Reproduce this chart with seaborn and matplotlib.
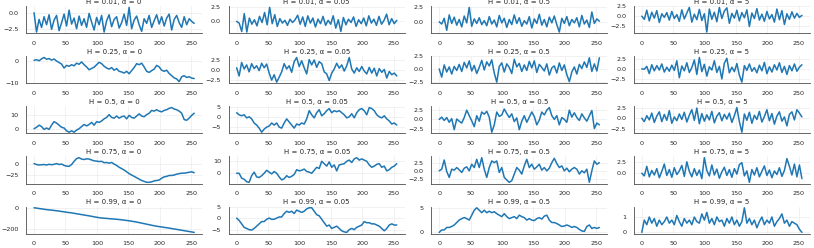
import numpy as np
import seaborn as sns
import matplotlib.pyplot as plt

# ------------ Data (one value every ~4 steps) ----------
hurst = [0.01, 0.25, 0.5, 0.75, 0.99]
alphas = [0, 0.05, 0.5, 5]

h001_a0 = [0.0, -2.9, -1.0, -2.2, -0.6, -1.8, -0.3, -2.5, -1.1, -0.4, -2.7, -1.5, -0.2, -2.0, 0.4, -1.7,
           -0.8, -2.4, -0.5, -1.9, -0.9, -2.2, -0.1, -1.4, -2.6, -0.7, -1.8, -0.4, -2.9, -1.2, -0.3, -2.1,
           -1.0, -0.6, -2.3, -1.5, -0.2, -1.9, 0.8, -2.4, -1.1, -0.5, -1.8, -2.8, -0.9, -1.6, -0.4, -2.2,
           -1.2, -0.3, -1.7, -0.6, -2.0, -0.8, -0.2, -2.6, -1.0, -0.4, -1.5, -2.2, -0.6, -1.8, -0.9, -1.3, -1.6]
h001_a005 = [0.0, -0.3, -1.8, 1.4, -1.9, 0.6, -0.5, 0.3, -0.8, 0.9, -0.2, 1.6, -0.6, 2.5, -0.4, 1.2,
             -0.9, 0.5, -0.3, 0.2, -0.7, 0.4, -0.2, 0.3, 1.1, -0.5, 0.8, -0.9, 1.0, -0.3, 0.6, -1.0,
             0.4, -0.4, 0.9, -0.7, 0.2, -0.5, 1.0, -1.2, 0.3, -1.8, 0.7, -0.6, 0.4, -0.2, 0.8, -0.9,
             0.3, -0.4, 0.6, -0.8, 1.0, -0.3, 0.4, -0.7, 0.9, -0.5, 0.2, 1.3, -0.6, 0.5, -0.4, 0.2]
h001_a05 = [0.0, -0.4, 0.6, -1.5, 1.2, -0.3, 0.8, -0.6, 0.4, -0.9, 1.0, -0.2, 2.5, -0.8, 0.5, -0.3,
            0.7, -0.5, 0.2, -0.7, 0.9, -0.4, 0.3, -0.9, 1.1, -0.2, 0.6, -1.0, 0.4, -0.5, 1.2, -0.3,
            0.7, -0.8, 0.2, -0.4, 0.9, -1.1, 0.5, -0.3, 1.3, -0.6, 0.4, -0.9, 0.8, -0.2, 1.0, -0.5,
            -1.8, 0.6, -0.3, 0.9, -0.7, 0.4, -0.2, 0.7, -0.9, 1.1, -0.4, 0.3, -1.0, 1.7, -0.3, 0.5, 0.1]
h001_a5 = [0.0, -0.8, 1.5, -1.2, 1.0, -0.5, 1.4, -1.6, 0.6, -0.3, 0.9, -1.0, 1.2, -0.6, 0.4, -1.3,
           1.6, -0.7, 0.8, 2.2, -1.5, 0.5, -0.9, 1.7, -1.1, 0.6, -4.0, 1.8, -0.8, 1.0, -1.4, 2.2,
           -0.6, 1.3, 2.1, -1.8, 0.7, -0.5, 1.5, -1.2, 0.9, -0.4, 1.6, -2.6, 0.8, -0.6, 1.9, -1.0,
           0.5, -1.3, 1.2, -0.7, 0.4, -1.5, 1.8, -0.9, 1.4, -2.1, 0.6, -0.8, 1.1, -0.5, 0.7, -0.3, 0.2]

h025_a0 = [0.5, 0.8, 0.3, 1.2, 1.8, 1.0, 1.3, 0.6, 1.1, 0.2, -0.5, -1.2, -3.0, -1.8, -2.2, -1.5,
           -2.0, -0.8, -1.3, -0.2, -1.5, -2.5, -3.8, -3.2, -2.6, -1.5, -0.4, -1.0, -2.2, -3.0, -3.5, -2.8,
           -4.0, -3.3, -4.5, -4.8, -5.3, -4.5, -5.6, -4.2, -2.8, -1.0, -1.5, -0.8, -2.5, -4.5, -5.0, -4.2,
           -3.5, -1.8, -2.5, -4.0, -4.5, -4.0, -5.5, -6.5, -7.5, -8.0, -9.2, -7.0, -6.5, -7.3, -7.0, -7.6, -7.8]
h025_a005 = [0.5, -1.5, 1.8, 0.2, 1.2, -0.5, 1.5, 0.3, 1.0, -0.2, 1.6, 0.5, 1.4, -0.8, -2.5, -1.2,
             -3.0, -1.8, -0.5, 1.5, 0.2, 1.0, -0.6, 2.0, 3.0, 0.8, 2.2, 0.5, -1.0, 2.5, 1.2, 2.4,
             0.6, 2.0, 1.5, -0.5, -1.0, -2.6, -0.8, 0.2, 1.6, 0.4, 1.2, -0.3, 1.0, 3.0, 0.2, -0.8,
             0.5, -0.4, 0.8, -0.3, -1.0, 0.6, -0.8, 0.4, -1.5, 0.3, -0.6, 0.1, -2.0, -0.4, -1.2, -0.8, -1.5]
h025_a05 = [0.0, -1.6, 0.8, -0.6, 0.4, -1.0, 0.5, -0.3, 0.9, -0.5, 1.3, 0.2, 1.6, -0.4, 0.7, -0.9,
            0.3, 1.7, -0.2, 1.4, 0.6, 1.8, -0.8, -2.6, 0.5, 1.2, -0.6, 1.0, 0.3, -0.9, 1.9, 0.4,
            1.1, -0.5, 0.8, -0.3, 1.5, 0.2, 1.6, -0.7, 0.9, 0.3, -0.4, 1.0, -1.2, 0.2, 0.6, -0.8,
            1.2, -0.3, 0.8, -1.1, -2.5, -0.6, 0.4, -1.0, 0.9, 0.1, 1.4, 0.3, 2.2, -0.5, 1.0, -0.4, 2.2]
h025_a5 = [0.0, -0.1, 0.6, -1.2, 1.0, -0.5, 0.8, -0.3, 1.2, -0.8, 0.4, -0.6, 0.9, -0.4, 2.0, -2.2,
           0.7, -0.5, 1.5, -0.9, 0.3, 2.2, -1.4, 2.8, -0.7, 1.1, -1.8, 0.5, -0.3, 2.0, -0.9, 0.6,
           -2.5, 1.4, 2.6, -1.0, 0.4, -0.7, 1.3, -1.6, -3.3, 0.8, -0.4, 1.2, -0.6, 0.3, -1.0, 0.9,
           -0.5, 1.6, -1.2, 0.5, -0.8, 1.0, -0.3, 1.5, -0.9, 0.6, -1.4, 0.8, -0.5, 1.2, -0.6, 0.4, 1.0]

h05_a0 = [0, 1, 2.5, 1.5, -0.5, 0.5, -0.5, 2.5, 5, 4, 2.5, 1, 0.5, -1.5, -2.5, -1.5,
          -2.5, -1, 0, 1.5, 3, 2, 3, 4.5, 2.5, 5, 4.5, 5.5, 7, 8, 10, 8,
          7.5, 9, 7.5, 8.5, 9, 7, 9.5, 8, 7.5, 9, 10.5, 9, 8.5, 10, 11, 13,
          12.5, 13.5, 12.5, 12, 13, 13.5, 14.5, 15, 14, 13.5, 12.5, 11, 6.5, 6, 7.5, 9.5, 11]
h05_a005 = [2, 1, 0.5, 1, -0.5, 0, -1, -3, -4, -5.5, -7.5, -6, -5, -4.5, -3, -4,
            -3, -5, -5.5, -3, -1, -2.5, -4, -5.5, -3.5, -4, -3, -3.5, -1, 3, 1, -0.5,
            2, 3.5, 0.5, 1.5, 3, 4, 2, 3, 2.5, 3, 2, 1, -0.5, 0, 1.5, -0.5,
            2, 3.5, 4, 3, 1, 4.5, 4, 3, 1, 0, -0.5, 0.5, -1, -2, -3.5, -3, -4]
h05_a05 = [0.0, 0.6, -0.3, 0.5, -0.8, 0.2, -2.8, 0.1, -0.5, -1.0, 0.5, 2.5, 1.0, -0.4, -2.0, 1.0,
           -0.5, 2.0, 1.4, 2.2, 0.6, -3.5, -1.5, 2.0, 0.8, 1.2, 2.8, 1.6, 0.5, 1.5, -0.6, 0.4,
           -2.8, -0.5, 1.0, -0.8, 0.6, 2.0, 0.8, -1.5, -0.2, 2.0, 1.2, 2.5, 3.2, 1.0, 0.0, 1.0,
           -1.5, 0.5, 0.0, -0.8, 2.5, 0.6, 1.8, 0.5, -0.3, 1.5, 0.4, -0.5, 1.0, 2.4, -2.5, -1.0, -1.5]
h05_a5 = [0.0, -0.8, 0.6, -0.4, 1.2, -1.0, 0.5, 1.5, -0.8, 0.9, -0.5, 1.8, -1.2, 0.3, -0.6, 1.0,
          -0.3, 1.4, -0.9, 0.7, 2.0, -0.5, 2.4, -1.3, 1.1, -0.7, 0.8, -0.4, 1.6, -1.1, 0.5, 1.3,
          -0.6, 0.9, -0.2, 1.2, -1.0, 0.6, 2.5, -0.8, -3.3, 1.0, -0.5, 1.4, -1.2, 0.7, -0.3, 1.6,
          -0.9, 0.4, 2.0, -0.6, 1.1, -1.4, 0.5, 1.5, -0.7, 0.3, -1.8, 0.9, 1.5, -0.4, 2.0, 1.2, 0.3]

h075_a0 = [0, -2, -3, -2.5, -2, -3, -1.5, -2.5, -1.5, 0, -2, -1, -4, -5.5, -6, -2,
           5, 11, 13, 10, 9, 10.5, 10, 8, 6, 5.5, 4.5, 5, 2, 2.5, 1, 2.5,
           -1, -4, -8, -11, -14, -18, -22, -25, -28, -31, -34, -37, -39, -41, -41, -40,
           -38, -37, -36, -32, -29, -28, -26, -26, -25, -23, -22, -21, -21, -20, -19, -18, -20]
h075_a005 = [0, 0, -4, -5, -7, -7.5, -2, 1, -3, -3.5, -2, 0, 2.5, 1, -0.5, 1.5,
             0, -3, -5.5, -4.5, -2, -3.5, -2.5, -1, 3, 2, 2.5, 3.5, 1.5, 1, 0, 2.5,
             5, 4, 10, 8, 6, 9.5, 5, 7, 2, 7, 7.5, 8, 10, 11, 9, 12,
             13, 11, 12, 11, 10, 7, 5, 6, 7.5, 8, 5, 6, 2, 3, 5, 6, 8]
h075_a05 = [0.0, 0.5, 3.3, -0.2, -2.0, 0.5, 0.2, 1.0, 0.3, -0.5, 0.8, 1.2, 0.0, 2.0, 1.0, 3.5,
            1.0, 4.0, 0.5, -2.0, 1.0, 3.0, 2.5, 3.0, -0.5, 1.0, -2.0, -2.8, -3.5, -3.0, -1.0, 1.0,
            0.2, -1.0, 1.5, 3.5, 1.0, 2.0, 0.5, 1.2, 2.0, 0.2, 1.0, 0.0, 0.8, 2.5, 3.8, 2.2,
            1.0, 1.5, 0.0, 0.8, -0.3, 0.5, 1.0, 0.5, -1.0, 0.0, -0.6, 0.5, -3.5, 0.0, 3.0, 2.0, 2.5]
h075_a5 = [0.0, -0.6, 1.5, -0.8, 0.6, -0.4, 1.0, -1.0, 0.4, 2.0, -0.5, 0.8, -0.9, 1.2, -0.3, 0.5,
           1.7, -0.7, 2.5, 0.4, -0.8, 1.0, -0.5, 0.7, -1.2, 3.4, 0.6, -0.6, 1.8, -0.4, 0.9, -1.1,
           0.3, 1.3, -0.5, 0.8, -0.9, 1.0, -0.2, 1.9, 2.3, -0.6, 0.5, -2.0, 0.8, -0.4, 1.2, -0.8,
           0.4, 1.6, -0.5, 0.7, -1.0, 0.5, -0.3, 1.2, -0.7, 0.6, 3.2, 1.5, -0.4, 2.0, -0.8, 1.8, -1.2]

h099_a0 = [0, -3, -7, -10, -14, -17, -20, -22, -25, -28, -31, -35, -38, -42, -45, -48,
           -52, -56, -60, -64, -68, -72, -76, -80, -85, -89, -93, -96, -98, -100, -102, -104,
           -106, -108, -110, -113, -116, -119, -122, -126, -130, -134, -139, -144, -149, -154, -159, -164,
           -169, -173, -177, -180, -184, -187, -191, -195, -199, -203, -207, -211, -215, -219, -223, -227, -231]
h099_a005 = [0, -1, -2.5, -4, -4.5, -5, -5.2, -4.5, -3.5, -2.5, -1.5, -1.5, -0.5, 0, -0.5, -0.5,
             0, 0.5, 0.5, 2, 3, 2.5, 3, 2, 3.5, 3, 2.5, 3, 4, 4.5, 4.5, 3,
             1.5, 1, -0.5, -2, -3.5, -3, -4.5, -4, -3.5, -4.5, -5.5, -6, -6.2, -5, -4.5, -5,
             -4, -3.5, -3, -1.5, -2, -2, -2.5, -2.5, -3, -3.5, -4.5, -5.5, -4.5, -3, -2.5, -3, -3]
h099_a05 = [0, 0.5, 0.5, 1, 1, 1.2, 1.5, 2, 2.5, 2.8, 3, 2.8, 2.5, 3.5, 4.5, 5,
            4.5, 4, 4.5, 4, 4.3, 4, 4.2, 3.8, 3.5, 3.2, 3.8, 3.2, 2.8, 3, 3.2, 2.8,
            3.5, 3.2, 3, 2.5, 2.8, 2.5, 2.4, 2.8, 3, 2.7, 3.3, 3.5, 2.5, 2, 2, 1.8,
            1.5, 1.2, 1.3, 1.5, 1.3, 1.0, 1.2, 1.0, 0.6, 0.3, 0.2, 1.2, 1.5, 0.8, 1.0, 0.8, 1.0]
h099_a5 = [0.0, 0.8, 0.5, 1.0, 0.6, 0.9, 0.4, 0.8, 0.5, 0.7, 1.0, 0.6, 0.8, 0.5, 1.1, 0.7,
           0.4, 0.9, 0.6, 0.8, 0.5, 1.0, 0.7, 0.6, 1.2, 0.8, 1.3, 0.6, 0.9, 0.5, 1.0, 0.7,
           0.8, 0.4, 0.9, 0.6, 1.0, 0.5, 0.8, 0.4, 0.7, 1.6, 0.6, 0.9, 0.5, 0.8, 0.3, 0.7,
           1.0, 0.5, 0.8, 0.6, 1.0, 0.4, 0.7, 0.9, 1.2, 0.6, 0.8, 0.4, 0.7, 0.6, 0.5, 0.2, 0.0]

series = [
    [h001_a0, h001_a005, h001_a05, h001_a5],
    [h025_a0, h025_a005, h025_a05, h025_a5],
    [h05_a0, h05_a005, h05_a05, h05_a5],
    [h075_a0, h075_a005, h075_a05, h075_a5],
    [h099_a0, h099_a005, h099_a05, h099_a5],
]

yticks = [
    [[0.0, -2.5], [2.5, 0.0], [2.5, 0.0], [2.5, 0.0, -2.5]],
    [[0, -10], [2.5, 0.0, -2.5], [2.5, 0.0, -2.5], [2.5, 0.0, -2.5]],
    [[10, 0], [5, 0, -5], [2.5, 0.0, -2.5], [2.5, 0.0, -2.5]],
    [[0, -25], [10, 0], [2.5, 0.0, -2.5], [2.5, 0.0]],
    [[0, -200], [5, 0, -5], [5, 0], [1, 0]],
]
xticks = [0, 50, 100, 150, 200, 250]

# ------------ Style ----------------
sns.set_style("whitegrid", {"axes.edgecolor": "0.3", "grid.color": "0.92"})
plt.rcParams['font.family'] = ['DejaVu Sans']

fig, axes = plt.subplots(5, 4, figsize=(8.14, 2.48), dpi=100)
fig.subplots_adjust(left=0.032, right=0.995, top=0.975, bottom=0.058, wspace=0.15, hspace=0.85)

for i, h in enumerate(hurst):
    for j, a in enumerate(alphas):
        ax = axes[i, j]
        y = series[i][j]
        x = np.linspace(0, 255, len(y))
        sns.lineplot(x=x, y=y, ax=ax, color="#1f77b4", linewidth=1.1)
        ax.set_title(f"H = {h}, α = {a}", fontsize=5, pad=1.5)
        ax.set_xticks(xticks)
        ax.set_yticks(yticks[i][j])
        ax.tick_params(labelsize=4.6, pad=2)
        ax.grid(linewidth=0.5)
        for s in ["left", "bottom"]:
            ax.spines[s].set_linewidth(0.6)
        sns.despine(ax=ax)

fig.savefig("out.png", dpi=100)
